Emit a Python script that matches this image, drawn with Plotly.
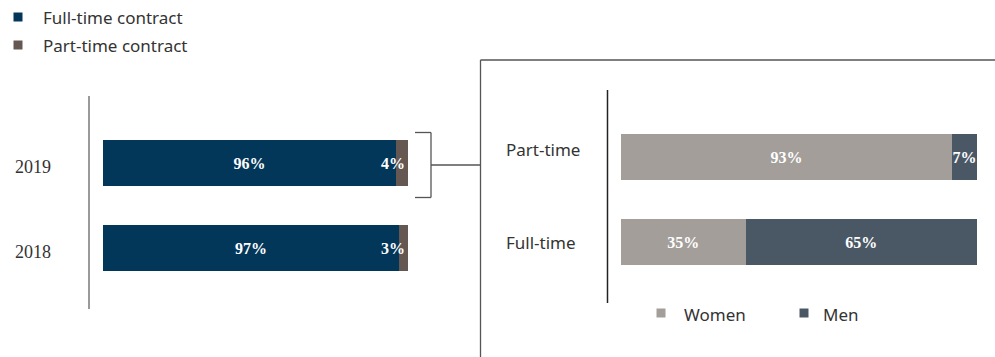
import plotly.graph_objects as go

W, H = 995, 357

# ---- data ----
years = ["2018", "2019"]
full_time = [97, 96]
part_time = [3, 4]

contract_types = ["Full-time", "Part-time"]
women = [35, 93]
men = [65, 7]

legend_left = ["Full-time contract", "Part-time contract"]
legend_right = ["Women", "Men"]

C_FULL = "#03375A"
C_PART = "#655853"
C_WOMEN = "#A39E99"
C_MEN = "#4A5866"
TXT = "#333333"
LINE = "#555555"


def px(x):
    return x / W


def py(y):
    return 1 - y / H


fig = go.Figure()

lab_font = dict(family="Liberation Serif", size=16, color="white")


def bar(yv, xv, col, xa, ya, name, anchor):
    return go.Bar(y=yv, x=xv, orientation="h", marker=dict(color=col, line=dict(width=0)),
                  text=[f"<b>{v}%</b>" for v in xv], textposition="inside", insidetextanchor=anchor,
                  textangle=0, constraintext="none", cliponaxis=False,
                  textfont=lab_font, xaxis=xa, yaxis=ya, name=name, showlegend=False, hoverinfo="skip")


fig.add_trace(bar(years, full_time, C_FULL, "x", "y", legend_left[0], "middle"))
fig.add_trace(bar(years, part_time, C_PART, "x", "y", legend_left[1], "end"))
fig.add_trace(bar(contract_types, women, C_WOMEN, "x2", "y2", legend_right[0], "middle"))
fig.add_trace(bar(contract_types, men, C_MEN, "x2", "y2", legend_right[1], "middle"))

ax_common = dict(showgrid=False, zeroline=False, showticklabels=False, showline=False, fixedrange=True)

fig.update_layout(
    width=W, height=H,
    margin=dict(l=0, r=0, t=0, b=0),
    paper_bgcolor="white", plot_bgcolor="white",
    barmode="stack", bargap=0.459,
    showlegend=False,
    xaxis=dict(domain=[px(103), px(408)], range=[0, 100], anchor="y", **ax_common),
    yaxis=dict(domain=[py(290.5), py(120.5)], range=[-0.5, 1.5], type="category",
               categoryorder="array", categoryarray=years, anchor="x", **ax_common),
    xaxis2=dict(domain=[px(621), px(977)], range=[0, 100], anchor="y2", **ax_common),
    yaxis2=dict(domain=[py(284.5), py(114.5)], range=[-0.5, 1.5], type="category",
                categoryorder="array", categoryarray=contract_types, anchor="x2", **ax_common),
    font=dict(family="Noto Sans", color=TXT),
)

shapes = []
# left axis line
shapes.append(dict(type="line", xref="paper", yref="paper", x0=px(89), x1=px(89), y0=py(96), y1=py(309),
                   line=dict(color="#9a9a9a", width=2)))
# right axis line
shapes.append(dict(type="line", xref="paper", yref="paper", x0=px(607.5), x1=px(607.5), y0=py(90), y1=py(303),
                   line=dict(color="#222222", width=1.5)))
# bracket and box
for (x0, y0, x1, y1) in [(415, 132.5, 431, 132.5), (431, 132.5, 431, 197.5), (415, 197.5, 431, 197.5),
                         (431, 165, 480.5, 165), (480.5, 60, 995, 60), (480.5, 60, 480.5, 357)]:
    shapes.append(dict(type="line", xref="paper", yref="paper", x0=px(x0), x1=px(x1), y0=py(y0), y1=py(y1),
                       line=dict(color=LINE, width=1.3)))
# legend squares
for (cx, cy, col) in [(18, 17, C_FULL), (18, 45, C_PART), (661, 313, C_WOMEN), (804, 313, C_MEN)]:
    shapes.append(dict(type="rect", xref="paper", yref="paper", x0=px(cx - 4.5), x1=px(cx + 4.5),
                       y0=py(cy + 4.5), y1=py(cy - 4.5), fillcolor=col, line=dict(width=0)))
fig.update_layout(shapes=shapes)

ann = []
for i, yv in enumerate(years):
    ann.append(dict(text=yv, xref="paper", yref="y", x=px(13), y=i, xanchor="left", yanchor="middle",
                    yshift=-4, showarrow=False, font=dict(family="Liberation Serif", size=18, color=TXT)))
for i, cv in enumerate(contract_types):
    ann.append(dict(text=cv, xref="paper", yref="y2", x=px(504), y=i, xanchor="left", yanchor="middle",
                    yshift=8 if cv == "Part-time" else 0, showarrow=False,
                    font=dict(family="Noto Sans", size=17, color=TXT)))
for (txt, x, y) in [(legend_left[0], 41, 17), (legend_left[1], 41, 45), (legend_right[0], 682, 314),
                    (legend_right[1], 821, 314)]:
    ann.append(dict(text=txt, xref="paper", yref="paper", x=px(x), y=py(y), xanchor="left", yanchor="middle",
                    showarrow=False, font=dict(family="Noto Sans", size=17, color=TXT)))
fig.update_layout(annotations=ann)

fig.write_html("out.html")
